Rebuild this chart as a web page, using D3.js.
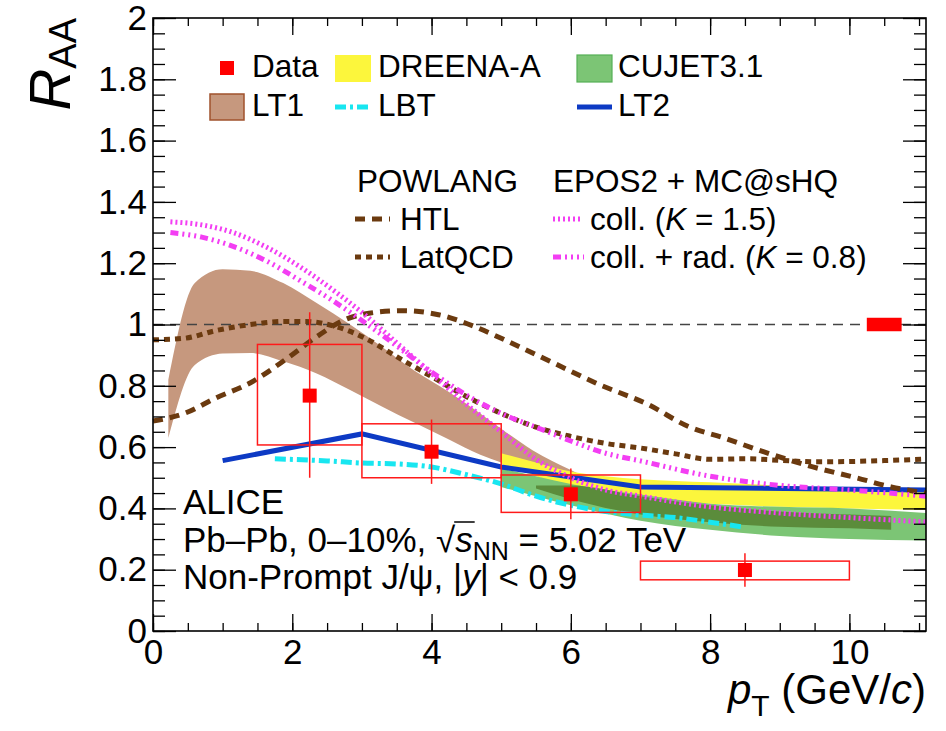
<!DOCTYPE html>
<html>
<head>
<meta charset="utf-8">
<script src="https://cdn.jsdelivr.net/npm/d3@7"></script>
<style>
  body { margin: 0; background: #fff; }
  svg { display: block; font-family: "Liberation Sans", Arial, Helvetica, sans-serif; }
</style>
</head>
<body>
<svg id="chart" width="946" height="731"></svg>
<script>
// ---- data ----
const dataPt = [2.25, 4.0, 6.0, 8.5]
const dataVal = [0.768, 0.585, 0.446, 0.199]
const statLo = [0.50, 0.48, 0.365, 0.144]
const statHi = [1.04, 0.69, 0.53, 0.254]
const binLo = [1.5, 3, 5, 7]
const binHi = [3, 5, 7, 10]
const sysLo = [0.607, 0.50, 0.387, 0.167]
const sysHi = [0.935, 0.676, 0.509, 0.228]
const normBox = { x0: 10.25, x1: 10.75, y0: 0.978, y1: 1.022 }

const lt1X = [0.22, 0.6, 1.0, 1.4, 1.87, 2.35, 2.83, 3.3, 3.75, 4.25, 4.7, 5.0, 5.45, 6.0, 6.3]
const lt1Hi = [0.82, 1.135, 1.18, 1.175, 1.135, 1.07, 1.0, 0.925, 0.85, 0.78, 0.71, 0.66, 0.59, 0.525, 0.49]
const lt1Lo = [0.63, 0.868, 0.905, 0.907, 0.88, 0.84, 0.786, 0.731, 0.68, 0.625, 0.575, 0.55, 0.52, 0.495, 0.49]

const dreenaX = [5.0, 5.5, 6.0, 6.5, 7.0, 8.0, 9.0, 10.0, 11.1]
const dreenaHi = [0.58, 0.55, 0.52, 0.505, 0.495, 0.485, 0.475, 0.465, 0.455]
const dreenaLo = [0.545, 0.505, 0.47, 0.445, 0.43, 0.415, 0.405, 0.40, 0.395]

const cujetX = [5.0, 5.5, 6.0, 7.0, 8.0, 9.0, 10.0, 11.1]
const cujetHi = [0.53, 0.505, 0.48, 0.445, 0.415, 0.405, 0.40, 0.385]
const cujetLo = [0.47, 0.44, 0.41, 0.36, 0.33, 0.31, 0.30, 0.295]
const cujetCoreX = [5.5, 6.0, 7.0, 8.0, 9.0, 10.0, 10.6]
const cujetCoreHi = [0.475, 0.475, 0.44, 0.41, 0.39, 0.38, 0.375]
const cujetCoreLo = [0.465, 0.43, 0.38, 0.355, 0.34, 0.335, 0.33]

const lt2X = [1, 3, 5, 7, 11.1]
const lt2Y = [0.556, 0.643, 0.535, 0.47, 0.46]

const lbtX = [1.75, 2.5, 3.0, 3.5, 4.0, 4.5, 5.0, 5.5, 6.0, 6.5, 7.0, 7.5, 8.0, 8.45]
const lbtY = [0.562, 0.555, 0.548, 0.545, 0.535, 0.51, 0.48, 0.44, 0.41, 0.39, 0.378, 0.37, 0.355, 0.34]

const htlX = [0, 0.45, 0.9, 1.4, 1.9, 2.35, 2.75, 3.1, 3.6, 4.1, 4.6, 5.0, 5.7, 6.4, 7.1, 7.7, 8.2, 8.7, 9.4, 10.1, 10.6, 11.1]
const htlY = [0.685, 0.71, 0.76, 0.81, 0.885, 0.96, 1.015, 1.037, 1.045, 1.032, 0.995, 0.955, 0.88, 0.805, 0.74, 0.666, 0.63, 0.59, 0.54, 0.50, 0.47, 0.45]

const latX = [0, 0.45, 0.9, 1.4, 1.9, 2.2, 2.6, 3.05, 3.5, 4.0, 4.5, 5.0, 5.5, 6.0, 6.5, 7.0, 7.5, 8.0, 8.5, 9.0, 9.5, 10.0, 10.5, 11.1]
const latY = [0.95, 0.955, 0.98, 1.0, 1.01, 1.01, 0.995, 0.955, 0.895, 0.83, 0.765, 0.71, 0.665, 0.635, 0.612, 0.597, 0.578, 0.56, 0.562, 0.557, 0.552, 0.553, 0.556, 0.561]

const eposX = [0.25, 0.7, 1.15, 1.65, 2.1, 2.6, 3.05, 3.5, 4.0, 4.5, 5.0, 5.5, 6.0, 6.5, 7.0, 8.0, 9.0, 10.0, 11.1]
const collY = [1.335, 1.325, 1.30, 1.25, 1.19, 1.11, 1.03, 0.94, 0.84, 0.74, 0.65, 0.56, 0.50, 0.46, 0.44, 0.405, 0.385, 0.37, 0.356]
const collRadY = [1.30, 1.285, 1.255, 1.205, 1.145, 1.075, 1.005, 0.93, 0.845, 0.77, 0.71, 0.665, 0.62, 0.58, 0.555, 0.505, 0.475, 0.46, 0.44]

const yTicks = d3.range(0, 2.001, 0.2)
const xTicks = d3.range(0, 11, 2)

// ---- setup ----
const svg = d3.select("#chart")
const plotL = 153, plotR = 926, plotT = 18, plotB = 631

const x = d3.scaleLinear().domain([0, 11.1]).range([plotL, plotR])
const y = d3.scaleLinear().domain([0, 2]).range([plotB, plotT])

const plot = svg.append("g")

const band = (xs, hi, lo) => d3.area()
  .x((d, i) => x(xs[i]))
  .y0((d, i) => y(lo[i]))
  .y1((d, i) => y(hi[i]))
  .curve(d3.curveMonotoneX)(xs)

// bands
plot.append("path").attr("d", band(lt1X, lt1Hi, lt1Lo)).attr("fill", "#c6987e")
plot.append("path").attr("d", band(dreenaX, dreenaHi, dreenaLo)).attr("fill", "#fcf63c")
plot.append("path").attr("d", band(cujetX, cujetHi, cujetLo)).attr("fill", "#7cc575")
plot.append("path").attr("d", band(cujetCoreX, cujetCoreHi, cujetCoreLo)).attr("fill", "#5b8c3b")

// reference line at 1
plot.append("line")
  .attr("x1", x(0)).attr("x2", x(11.1))
  .attr("y1", y(1)).attr("y2", y(1))
  .attr("stroke", "#444").attr("stroke-width", 1.3)
  .attr("stroke-dasharray", "10,7")

const styles = {
  lt2: { stroke: "#0d3ac4", dash: null },
  lbt: { stroke: "#18e6f0", dash: "11,4,3,4" },
  htl: { stroke: "#6b3a0f", dash: "10,7" },
  lat: { stroke: "#6b3a0f", dash: "6,5" },
  coll: { stroke: "#f33ef3", dash: "2,3" },
  collRad: { stroke: "#f33ef3", dash: "8,4,2,4,2,4,2,4" }
}

const drawLine = (xs, ys, s, smooth = true) => {
  const gen = d3.line().x((d, i) => x(xs[i])).y((d, i) => y(ys[i]))
  if (smooth) gen.curve(d3.curveMonotoneX)
  plot.append("path")
    .attr("d", gen(xs))
    .attr("fill", "none")
    .attr("stroke", s.stroke)
    .attr("stroke-width", 5)
    .attr("stroke-dasharray", s.dash)
}

drawLine(lt2X, lt2Y, styles.lt2, false)
drawLine(lbtX, lbtY, styles.lbt)
drawLine(htlX, htlY, styles.htl)
drawLine(latX, latY, styles.lat)
drawLine(eposX, collY, styles.coll)
drawLine(eposX, collRadY, styles.collRad)

// data: systematic boxes, stat bars, markers
const red = "#ff1a1a"
const dataG = plot.append("g")
dataG.selectAll("rect.sys")
  .data(dataPt)
  .join("rect")
  .attr("class", "sys")
  .attr("x", (d, i) => x(binLo[i]))
  .attr("width", (d, i) => x(binHi[i]) - x(binLo[i]))
  .attr("y", (d, i) => y(sysHi[i]))
  .attr("height", (d, i) => y(sysLo[i]) - y(sysHi[i]))
  .attr("fill", "none").attr("stroke", red).attr("stroke-width", 1.5)
dataG.selectAll("line.stat")
  .data(dataPt)
  .join("line")
  .attr("class", "stat")
  .attr("x1", d => x(d)).attr("x2", d => x(d))
  .attr("y1", (d, i) => y(statHi[i])).attr("y2", (d, i) => y(statLo[i]))
  .attr("stroke", red).attr("stroke-width", 1.5)
dataG.selectAll("rect.mk")
  .data(dataPt)
  .join("rect")
  .attr("class", "mk")
  .attr("x", d => x(d) - 7).attr("y", (d, i) => y(dataVal[i]) - 7)
  .attr("width", 14).attr("height", 14)
  .attr("fill", "#ff0000")
plot.append("rect")
  .attr("x", x(normBox.x0)).attr("width", x(normBox.x1) - x(normBox.x0))
  .attr("y", y(normBox.y1)).attr("height", y(normBox.y0) - y(normBox.y1))
  .attr("fill", "#ff0000")

// ---- axes (ticks inward, ROOT style) ----
const fmt = d => d3.format("~g")(+d.toFixed(1))
const axisFont = g => g.selectAll("text")
  .attr("font-size", 35).attr("fill", "#000")
  .attr("font-family", "Liberation Sans, Arial, sans-serif")

const tidy = g => {
  g.select(".domain").remove()
  g.selectAll("line").attr("stroke", "#000").attr("stroke-width", 1.3)
}

svg.append("g").attr("transform", `translate(0,${plotB})`)
  .call(d3.axisBottom(x).tickValues(d3.range(0, 11.1, 0.5)).tickSize(-8).tickFormat(""))
  .call(tidy)
svg.append("g").attr("transform", `translate(0,${plotB})`)
  .call(d3.axisBottom(x).tickValues(xTicks).tickSize(-17).tickPadding(8).tickFormat(fmt))
  .call(tidy).call(axisFont)
svg.append("g").attr("transform", `translate(0,${plotT})`)
  .call(d3.axisTop(x).tickValues(d3.range(0, 11.1, 0.5)).tickSize(-8).tickFormat(""))
  .call(tidy)
svg.append("g").attr("transform", `translate(0,${plotT})`)
  .call(d3.axisTop(x).tickValues(xTicks).tickSize(-17).tickFormat(""))
  .call(tidy)

svg.append("g").attr("transform", `translate(${plotL},0)`)
  .call(d3.axisLeft(y).tickValues(d3.range(0, 2.001, 0.05)).tickSize(-12).tickFormat(""))
  .call(tidy)
svg.append("g").attr("transform", `translate(${plotL},0)`)
  .call(d3.axisLeft(y).tickValues(yTicks).tickSize(-23).tickPadding(6).tickFormat(fmt))
  .call(tidy).call(axisFont)
svg.append("g").attr("transform", `translate(${plotR},0)`)
  .call(d3.axisRight(y).tickValues(d3.range(0, 2.001, 0.05)).tickSize(-12).tickFormat(""))
  .call(tidy)
svg.append("g").attr("transform", `translate(${plotR},0)`)
  .call(d3.axisRight(y).tickValues(yTicks).tickSize(-23).tickFormat(""))
  .call(tidy)

svg.append("rect")
  .attr("x", plotL).attr("y", plotT)
  .attr("width", plotR - plotL).attr("height", plotB - plotT)
  .attr("fill", "none").attr("stroke", "#000").attr("stroke-width", 1.6)

// axis titles
const xt = svg.append("text")
  .attr("x", plotR).attr("y", 704)
  .attr("text-anchor", "end").attr("font-size", 42)
xt.append("tspan").attr("font-style", "italic").text("p")
xt.append("tspan").attr("font-size", 30).attr("dy", 12).text("T")
xt.append("tspan").attr("dy", -12).text(" (GeV/")
xt.append("tspan").attr("font-style", "italic").text("c")
xt.append("tspan").text(")")

const yt = svg.append("text")
  .attr("transform", `translate(70,${plotT}) rotate(-90)`)
  .attr("text-anchor", "end").attr("font-size", 58)
yt.append("tspan").attr("font-style", "italic").text("R")
yt.append("tspan").attr("font-size", 38).attr("dy", 6).text("AA")

// ---- legend ----
const leg = svg.append("g").attr("font-size", 31.5)
const legText = (tx, ty, parts) => {
  const t = leg.append("text").attr("x", tx).attr("y", ty)
  parts.forEach(p => {
    const s = t.append("tspan").text(p[0])
    if (p[1]) s.attr("font-style", "italic")
  })
  return t
}
const legLine = (x0, x1, yy, s) => leg.append("line")
  .attr("x1", x0).attr("x2", x1).attr("y1", yy).attr("y2", yy)
  .attr("stroke", s.stroke).attr("stroke-width", 5)
  .attr("stroke-dasharray", s.dash)

leg.append("rect").attr("x", 220).attr("y", 61).attr("width", 14).attr("height", 14).attr("fill", "#ff0000")
legText(252, 77, [["Data"]])
leg.append("rect").attr("x", 335).attr("y", 55).attr("width", 36).attr("height", 27).attr("fill", "#fcf63c")
legText(378, 77, [["DREENA-A"]])
leg.append("rect").attr("x", 577).attr("y", 55).attr("width", 35).attr("height", 27)
  .attr("fill", "#7cc575").attr("stroke", "#55b055").attr("stroke-width", 1.2)
legText(618, 77, [["CUJET3.1"]])

leg.append("rect").attr("x", 210).attr("y", 94).attr("width", 34).attr("height", 26)
  .attr("fill", "#c6987e").attr("stroke", "#a0522d").attr("stroke-width", 1.5)
legText(252, 116, [["LT1"]])
legLine(335, 369, 107, styles.lbt)
legText(378, 116, [["LBT"]])
legLine(577, 612, 107, styles.lt2)
legText(618, 116, [["LT2"]])

legText(357, 192, [["POWLANG"]])
legText(553, 192, [["EPOS2 + MC@sHQ"]])
legLine(355, 390, 219, styles.htl)
legText(400, 230, [["HTL"]])
legLine(355, 390, 257, styles.lat)
legText(400, 268, [["LatQCD"]])
legLine(553, 582, 219, styles.coll)
legText(590, 230, [["coll. ("], ["K", true], [" = 1.5)"]])
legLine(553, 584, 257, styles.collRad)
legText(590, 268, [["coll. + rad. ("], ["K", true], [" = 0.8)"]])

// ---- ALICE label ----
const info = svg.append("g").attr("font-size", 35)
info.append("text").attr("x", 183).attr("y", 514).text("ALICE")
const energy = info.append("text").attr("x", 183).attr("y", 552)
energy.append("tspan").text("Pb\u2013Pb, 0\u201310%, ")
energy.append("tspan").text("\u221A")
energy.append("tspan").attr("font-style", "italic").text("s")
energy.append("tspan").attr("font-size", 25).attr("dy", 8).text("NN")
energy.append("tspan").attr("dy", -8).text(" = 5.02 TeV")
const sel = info.append("text").attr("x", 183).attr("y", 589)
sel.append("tspan").text("Non-Prompt J/\u03C8, |")
sel.append("tspan").attr("font-style", "italic").text("y")
sel.append("tspan").text("| < 0.9")

// overline of the square root, measured from the rendered glyphs
const en = energy.node()
const iRoot = en.textContent.indexOf("\u221A")
const rootBox = en.getExtentOfChar(iRoot)
const lastBox = en.getExtentOfChar(iRoot + 1)
info.append("line")
  .attr("x1", rootBox.x + rootBox.width - 1).attr("x2", lastBox.x + lastBox.width + 2)
  .attr("y1", rootBox.y + 2).attr("y2", rootBox.y + 2)
  .attr("stroke", "#000").attr("stroke-width", 1.5)
</script>
</body>
</html>
